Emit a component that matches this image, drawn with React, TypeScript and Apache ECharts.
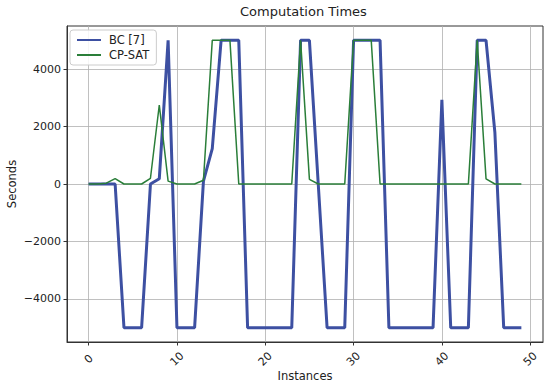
import React, { useEffect, useRef } from "react";
import * as echarts from "echarts";

const instances: number[] = Array.from({ length: 50 }, (_, i) => i);
const bcValues: number[] = [
  0, 0, 0, 0, -5000, -5000, -5000, 0, 180, 5000,
  -5000, -5000, -5000, 100, 1230, 5000, 5000, 5000, -5000, -5000,
  -5000, -5000, -5000, -5000, 5000, 5000, 0, -5000, -5000, -5000,
  5000, 5000, 5000, 5000, -5000, -5000, -5000, -5000, -5000, -5000,
  2930, -5000, -5000, -5000, 5000, 5000, 1800, -5000, -5000, -5000,
];
const cpsatValues: number[] = [
  0, 0, 30, 190, 0, 0, 0, 200, 2750, 100,
  0, 0, 0, 130, 5000, 5000, 5000, 0, 0, 0,
  0, 0, 0, 0, 5000, 160, 0, 0, 0, 0,
  5000, 5000, 5000, 0, 0, 0, 0, 0, 0, 0,
  0, 0, 0, 0, 5000, 180, 0, 0, 0, 0,
];
const xTicks: number[] = [0, 10, 20, 30, 40, 50];
const yTicks: number[] = [-4000, -2000, 0, 2000, 4000];

const FONT = "DejaVu Sans";

export default function App() {
  const ref = useRef<HTMLDivElement>(null);
  useEffect(() => {
    if (!ref.current) return;
    const chart = echarts.init(ref.current, null, { renderer: "svg" });
    const fmt = (v: number) => String(v).replace("-", "\u2212");
    chart.setOption({
      animation: false,
      backgroundColor: "#ffffff",
      title: {
        text: "Computation Times",
        left: 240,
        top: 5,
        padding: 0,
        textStyle: { fontFamily: FONT, fontSize: 13, fontWeight: "normal", color: "#222" },
      },
      legend: {
        orient: "vertical",
        left: 70,
        top: 30,
        padding: [4, 7, 4, 6],
        itemGap: 3,
        itemWidth: 24,
        itemHeight: 14,
        borderColor: "#cccccc",
        borderWidth: 1,
        borderRadius: 3,
        backgroundColor: "rgba(255,255,255,0.85)",
        itemStyle: { opacity: 0 },
        textStyle: { fontFamily: FONT, fontSize: 11.5, color: "#222", padding: [0, 0, 0, 3] },
        data: ["BC [7]", "CP-SAT"],
      },
      grid: {
        left: 67,
        right: 7,
        top: 26,
        bottom: 44,
        show: true,
        borderColor: "#333",
        borderWidth: 1,
        backgroundColor: "transparent",
        outerBoundsMode: "none",
        containLabel: false,
      },
      xAxis: {
        type: "value",
        min: -2.45,
        max: 51.45,
        name: "Instances",
        nameLocation: "middle",
        nameGap: 28,
        nameMoveOverlap: false,
        nameTextStyle: { fontFamily: FONT, fontSize: 11.5, color: "#222" },
        axisLine: { show: true, onZero: false, lineStyle: { color: "#333", width: 1 } },
        axisTick: { show: true, length: 3.5, lineStyle: { color: "#333" }, customValues: xTicks },
        axisLabel: {
          customValues: xTicks,
          rotate: 45,
          align: "center",
          verticalAlign: "middle",
          margin: 17,
          fontFamily: FONT,
          fontSize: 11,
          color: "#222",
          formatter: fmt,
        },
        splitLine: { show: true, lineStyle: { color: "#b0b0b0", width: 0.8 }, customValues: xTicks },
      },
      yAxis: {
        type: "value",
        min: -5500,
        max: 5500,
        name: "Seconds",
        nameLocation: "middle",
        nameGap: 49,
        nameMoveOverlap: false,
        nameTextStyle: { fontFamily: FONT, fontSize: 11.5, color: "#222" },
        axisLine: { show: true, onZero: false, lineStyle: { color: "#333", width: 1 } },
        axisTick: { show: true, length: 3.5, lineStyle: { color: "#333" }, customValues: yTicks },
        axisLabel: {
          customValues: yTicks,
          margin: 6,
          fontFamily: FONT,
          fontSize: 11,
          color: "#222",
          formatter: fmt,
        },
        splitLine: { show: true, lineStyle: { color: "#b0b0b0", width: 0.8 }, customValues: yTicks },
      },
      series: [
        {
          name: "BC [7]",
          type: "line",
          symbol: "none",
          data: instances.map((x, i) => [x, bcValues[i]]),
          lineStyle: { color: "#3d50a2", width: 3 },
          itemStyle: { color: "#3d50a2" },
        },
        {
          name: "CP-SAT",
          type: "line",
          symbol: "none",
          data: instances.map((x, i) => [x, cpsatValues[i]]),
          lineStyle: { color: "#2a7e39", width: 1.5 },
          itemStyle: { color: "#2a7e39" },
        },
      ],
    });
    return () => chart.dispose();
  }, []);
  return <div ref={ref} style={{ width: 550, height: 386, position: "absolute", left: 0, top: 0 }} />;
}
